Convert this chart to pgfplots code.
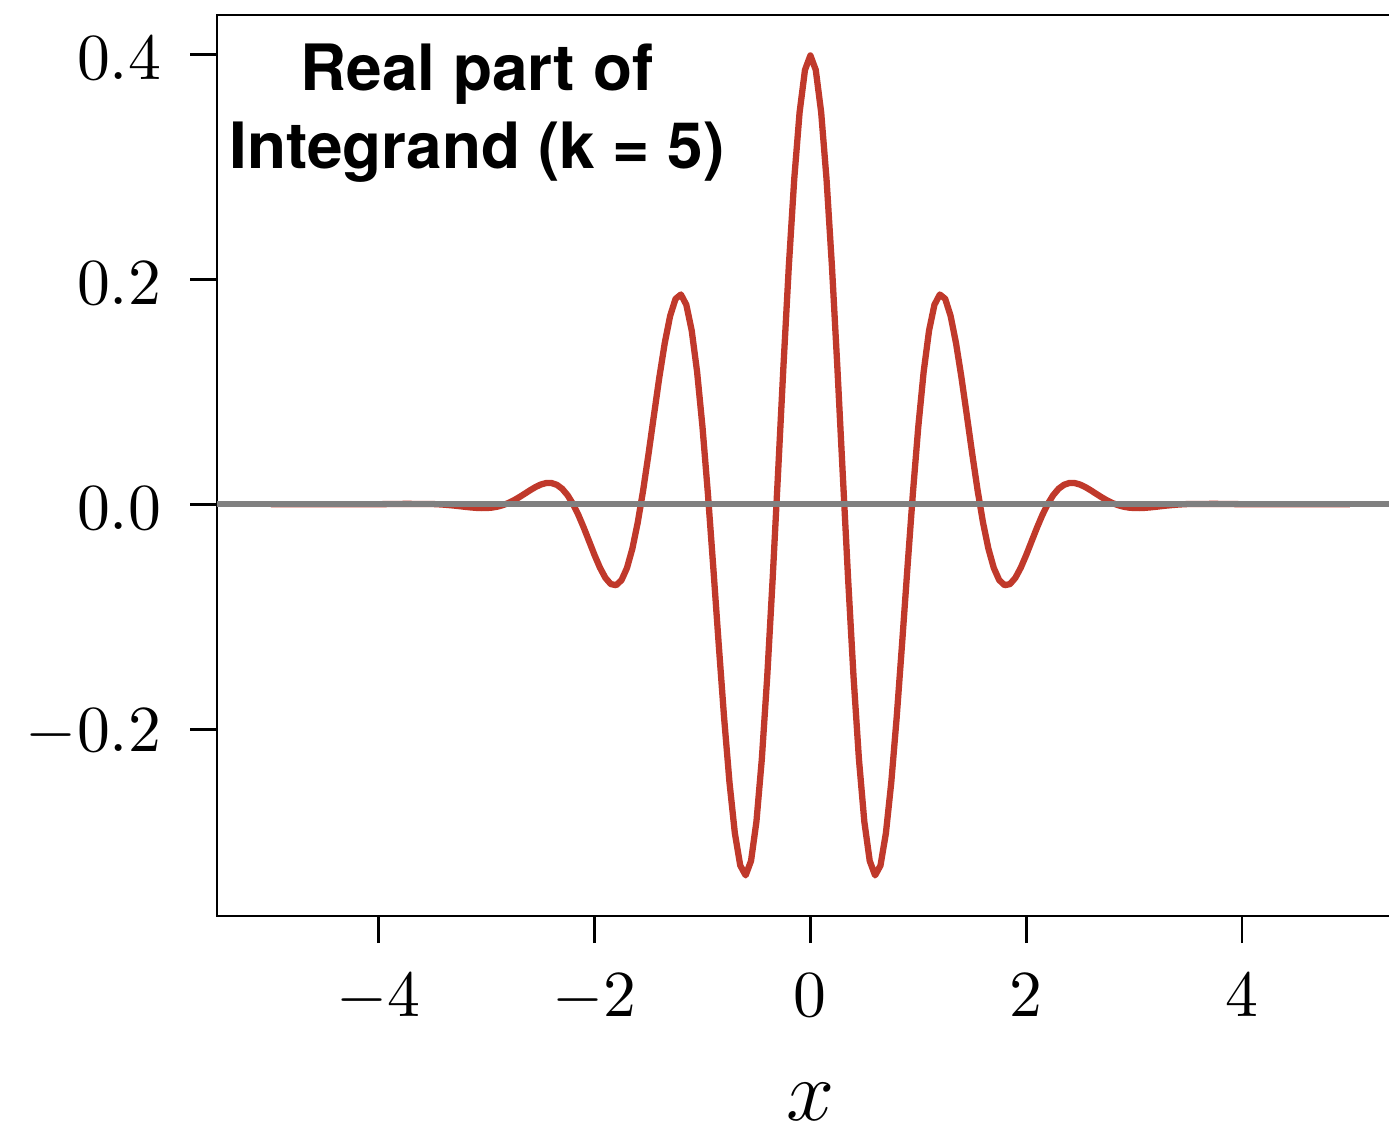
\documentclass[border=0pt]{standalone}
\usepackage{pgfplots}
\pgfplotsset{compat=1.18}
\usepackage{pgfplotstable}
\usepackage{fontspec}
\newfontfamily\headfont{TeX Gyre Heros}

\definecolor{curvered}{RGB}{192,57,43}
\definecolor{zerogray}{RGB}{128,128,128}

% Real part of the integrand phi(x) cos(k x), k = 5
\pgfplotstableread{
x y
-5.00 0.000001
-4.75 0.000001
-4.50 -0.000014
-4.25 -0.000035
-4.00 0.000055
-3.75 0.000351
-3.50 0.000192
-3.45 -0.000030
-3.40 -0.000339
-3.35 -0.000736
-3.30 -0.001210
-3.25 -0.001738
-3.20 -0.002283
-3.15 -0.002792
-3.10 -0.003197
-3.05 -0.003417
-3.00 -0.003367
-2.95 -0.002958
-2.90 -0.002113
-2.85 -0.000774
-2.80 0.001082
-2.75 0.003434
-2.70 0.006200
-2.65 0.009235
-2.60 0.012326
-2.55 0.015189
-2.50 0.017489
-2.45 0.018853
-2.40 0.018898
-2.35 0.017272
-2.30 0.013691
-2.25 0.007989
-2.20 0.000157
-2.15 -0.009615
-2.10 -0.020916
-2.05 -0.033100
-2.00 -0.045302
-1.95 -0.056471
-1.90 -0.065430
-1.85 -0.070966
-1.80 -0.071934
-1.75 -0.067369
-1.70 -0.056619
-1.65 -0.039449
-1.60 -0.016139
-1.55 0.012456
-1.50 0.044896
-1.45 0.079186
-1.40 0.112880
-1.35 0.143223
-1.30 0.167357
-1.25 0.182548
-1.20 0.186452
-1.15 0.177351
-1.10 0.154385
-1.05 0.117719
-1.00 0.068638
-0.95 0.009553
-0.90 -0.056090
-0.85 -0.124007
-0.80 -0.189356
-0.75 -0.247101
-0.70 -0.292412
-0.65 -0.321076
-0.60 -0.329890
-0.55 -0.316984
-0.50 -0.282055
-0.45 -0.226474
-0.40 -0.153254
-0.35 -0.066885
-0.30 0.026978
-0.25 0.121925
-0.20 0.211281
-0.15 0.288636
-0.10 0.348358
-0.05 0.386057
0.00 0.398942
0.05 0.386057
0.10 0.348358
0.15 0.288636
0.20 0.211281
0.25 0.121925
0.30 0.026978
0.35 -0.066885
0.40 -0.153254
0.45 -0.226474
0.50 -0.282055
0.55 -0.316984
0.60 -0.329890
0.65 -0.321076
0.70 -0.292412
0.75 -0.247101
0.80 -0.189356
0.85 -0.124007
0.90 -0.056090
0.95 0.009553
1.00 0.068638
1.05 0.117719
1.10 0.154385
1.15 0.177351
1.20 0.186452
1.25 0.182548
1.30 0.167357
1.35 0.143223
1.40 0.112880
1.45 0.079186
1.50 0.044896
1.55 0.012456
1.60 -0.016139
1.65 -0.039449
1.70 -0.056619
1.75 -0.067369
1.80 -0.071934
1.85 -0.070966
1.90 -0.065430
1.95 -0.056471
2.00 -0.045302
2.05 -0.033100
2.10 -0.020916
2.15 -0.009615
2.20 0.000157
2.25 0.007989
2.30 0.013691
2.35 0.017272
2.40 0.018898
2.45 0.018853
2.50 0.017489
2.55 0.015189
2.60 0.012326
2.65 0.009235
2.70 0.006200
2.75 0.003434
2.80 0.001082
2.85 -0.000774
2.90 -0.002113
2.95 -0.002958
3.00 -0.003367
3.05 -0.003417
3.10 -0.003197
3.15 -0.002792
3.20 -0.002283
3.25 -0.001738
3.30 -0.001210
3.35 -0.000736
3.40 -0.000339
3.45 -0.000030
3.50 0.000192
3.75 0.000351
4.00 0.000055
4.25 -0.000035
4.50 -0.000014
4.75 0.000001
5.00 0.000001
}\integrand

\begin{document}
\begin{tikzpicture}
\clip (0pt,0pt) rectangle (231.5pt,187.5pt);
\begin{axis}[
  at={(36.17pt,34.83pt)}, anchor=south west,
  scale only axis, width=197.8pt, height=150.17pt,
  xmin=-5.5, xmax=5.5, ymin=-0.3660, ymax=0.4349,
  axis line style={line width=0.45pt},
  xtick={-4,-2,0,2,4}, ytick={-0.2,0,0.2,0.4},
  xtick pos=lower, ytick pos=left,
  tick align=outside, major tick length=4.5pt,
  every tick/.style={black, line width=0.45pt},
  minor tick num=0,
  tick label style={font=\fontsize{10.85pt}{12pt}\selectfont},
  xticklabel style={yshift=-1.7pt},
  yticklabel style={xshift=-1.3pt, yshift=-0.6pt,
    /pgf/number format/fixed, /pgf/number format/fixed zerofill,
    /pgf/number format/precision=1},
  xlabel={$x$},
  xlabel style={font=\fontsize{14pt}{16pt}\selectfont,
    at={(axis description cs:0.5,-0.2265)}, anchor=base},
  clip=true,
]
\addplot[curvered, line width=1.05pt, line join=round] table[x=x, y=y] {\integrand};
\addplot[zerogray, line width=1.0pt] coordinates {(-5.5,0) (5.5,0)};
\node[anchor=north, align=center, inner sep=0pt,
  font=\headfont\bfseries\fontsize{10.65pt}{13pt}\selectfont]
  at (axis cs:-3.09,0.4100) {Real part of\\Integrand (k = 5)};
\end{axis}
\end{tikzpicture}
\end{document}
